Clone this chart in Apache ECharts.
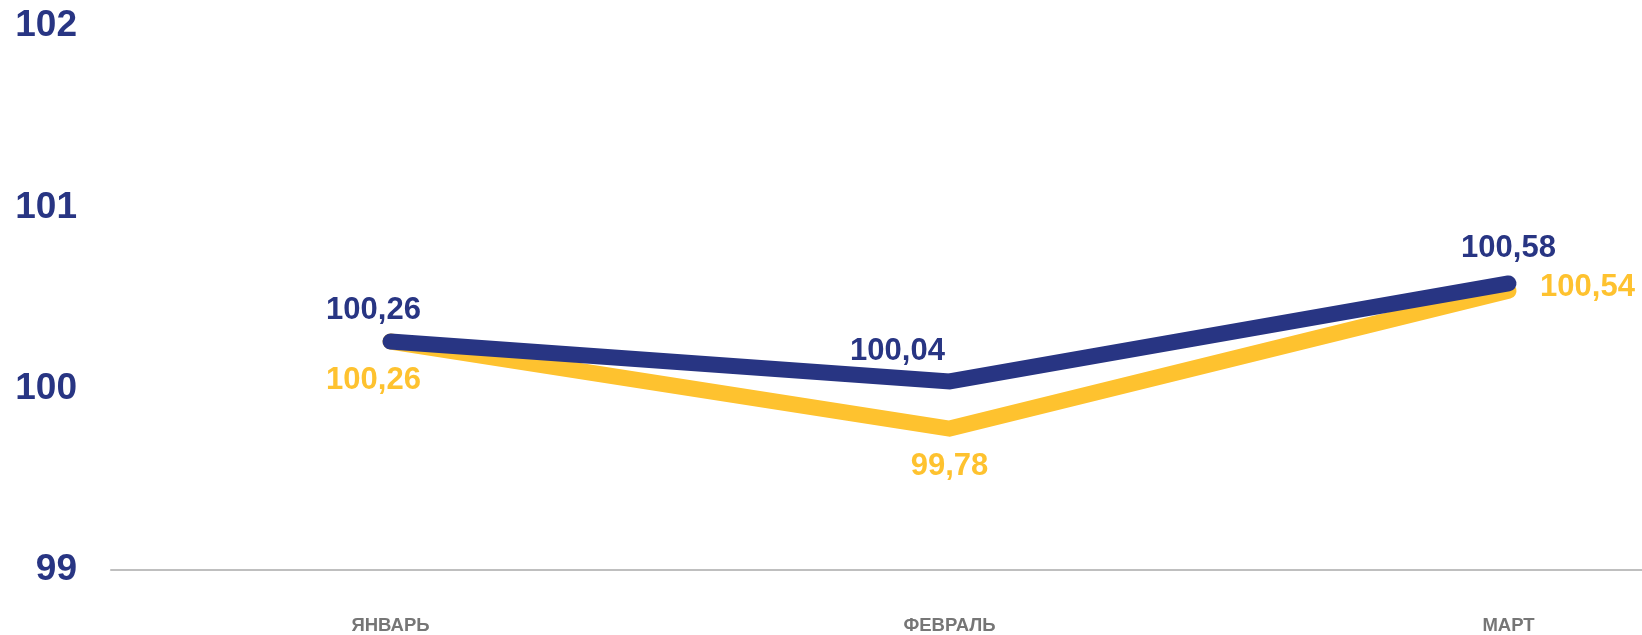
<!DOCTYPE html>
<html>
<head>
<meta charset="utf-8">
<script src="https://cdn.jsdelivr.net/npm/echarts@6/dist/echarts.min.js"></script>
<style>
html,body{margin:0;padding:0;background:#fff;}
#main{width:1642px;height:635px;}
</style>
</head>
<body>
<div id="main"></div>
<script>
var months = ['ЯНВАРЬ', 'ФЕВРАЛЬ', 'МАРТ'];
var navyValues = [100.26, 100.04, 100.58];
var yellowValues = [100.26, 99.78, 100.54];
var yTicks = [99, 100, 101, 102];

// смещения подписей (как в исходной диаграмме)
var navyOffsets = [[-17, -31], [-52, -30], [0, -35]];
var yellowOffsets = [[-17, 39], [0, 38], [79, -3]];

function fmt(v){
	return v.toFixed(2).replace('.', ',');
}

function makeData(values, offsets){
	return values.map(function(v, i){
		return { value: v, label: { offset: offsets[i] } };
	});
}

var myChart = echarts.init(document.getElementById('main'));

var option = {
	animation: false,
	grid: { left: 111, width: 1677, top: 26, bottom: 65, outerBoundsMode: 'none', containLabel: false },
	xAxis: {
		type: 'category',
		data: months,
		boundaryGap: true,
		axisLine: { lineStyle: { color: '#BFBFBF', width: 2 } },
		axisTick: { show: false },
		axisLabel: {
			margin: 46,
			color: '#767676',
			fontWeight: 'bold',
			fontSize: 18.5,
			fontFamily: 'Liberation Sans, Arial, sans-serif'
		}
	},
	yAxis: {
		type: 'value',
		min: yTicks[0],
		max: yTicks[yTicks.length - 1],
		interval: 1,
		axisLine: { show: false },
		axisTick: { show: false },
		splitLine: { show: false },
		axisLabel: {
			margin: 34,
			padding: [6, 0, 0, 0],
			color: '#283583',
			fontWeight: 'bold',
			fontSize: 37,
			fontFamily: 'Liberation Sans, Arial, sans-serif'
		}
	},
	series: [
		{
			name: 'yellow',
			type: 'line',
			data: makeData(yellowValues, yellowOffsets),
			symbol: 'circle',
			symbolSize: 1,
			itemStyle: { color: '#FEC22F' },
			lineStyle: { color: '#FEC22F', width: 16, cap: 'round', join: 'miter' },
			label: {
				show: true,
				position: 'inside',
				color: '#FEC22F',
				fontWeight: 'bold',
				fontSize: 31,
				fontFamily: 'Liberation Sans, Arial, sans-serif',
				formatter: function(p){ return fmt(p.value); }
			},
			z: 2
		},
		{
			name: 'navy',
			type: 'line',
			data: makeData(navyValues, navyOffsets),
			symbol: 'circle',
			symbolSize: 1,
			itemStyle: { color: '#283583' },
			lineStyle: { color: '#283583', width: 16, cap: 'round', join: 'miter' },
			label: {
				show: true,
				position: 'inside',
				color: '#283583',
				fontWeight: 'bold',
				fontSize: 31,
				fontFamily: 'Liberation Sans, Arial, sans-serif',
				formatter: function(p){ return fmt(p.value); }
			},
			z: 3
		}
	]
};

myChart.setOption(option);
</script>
</body>
</html>
